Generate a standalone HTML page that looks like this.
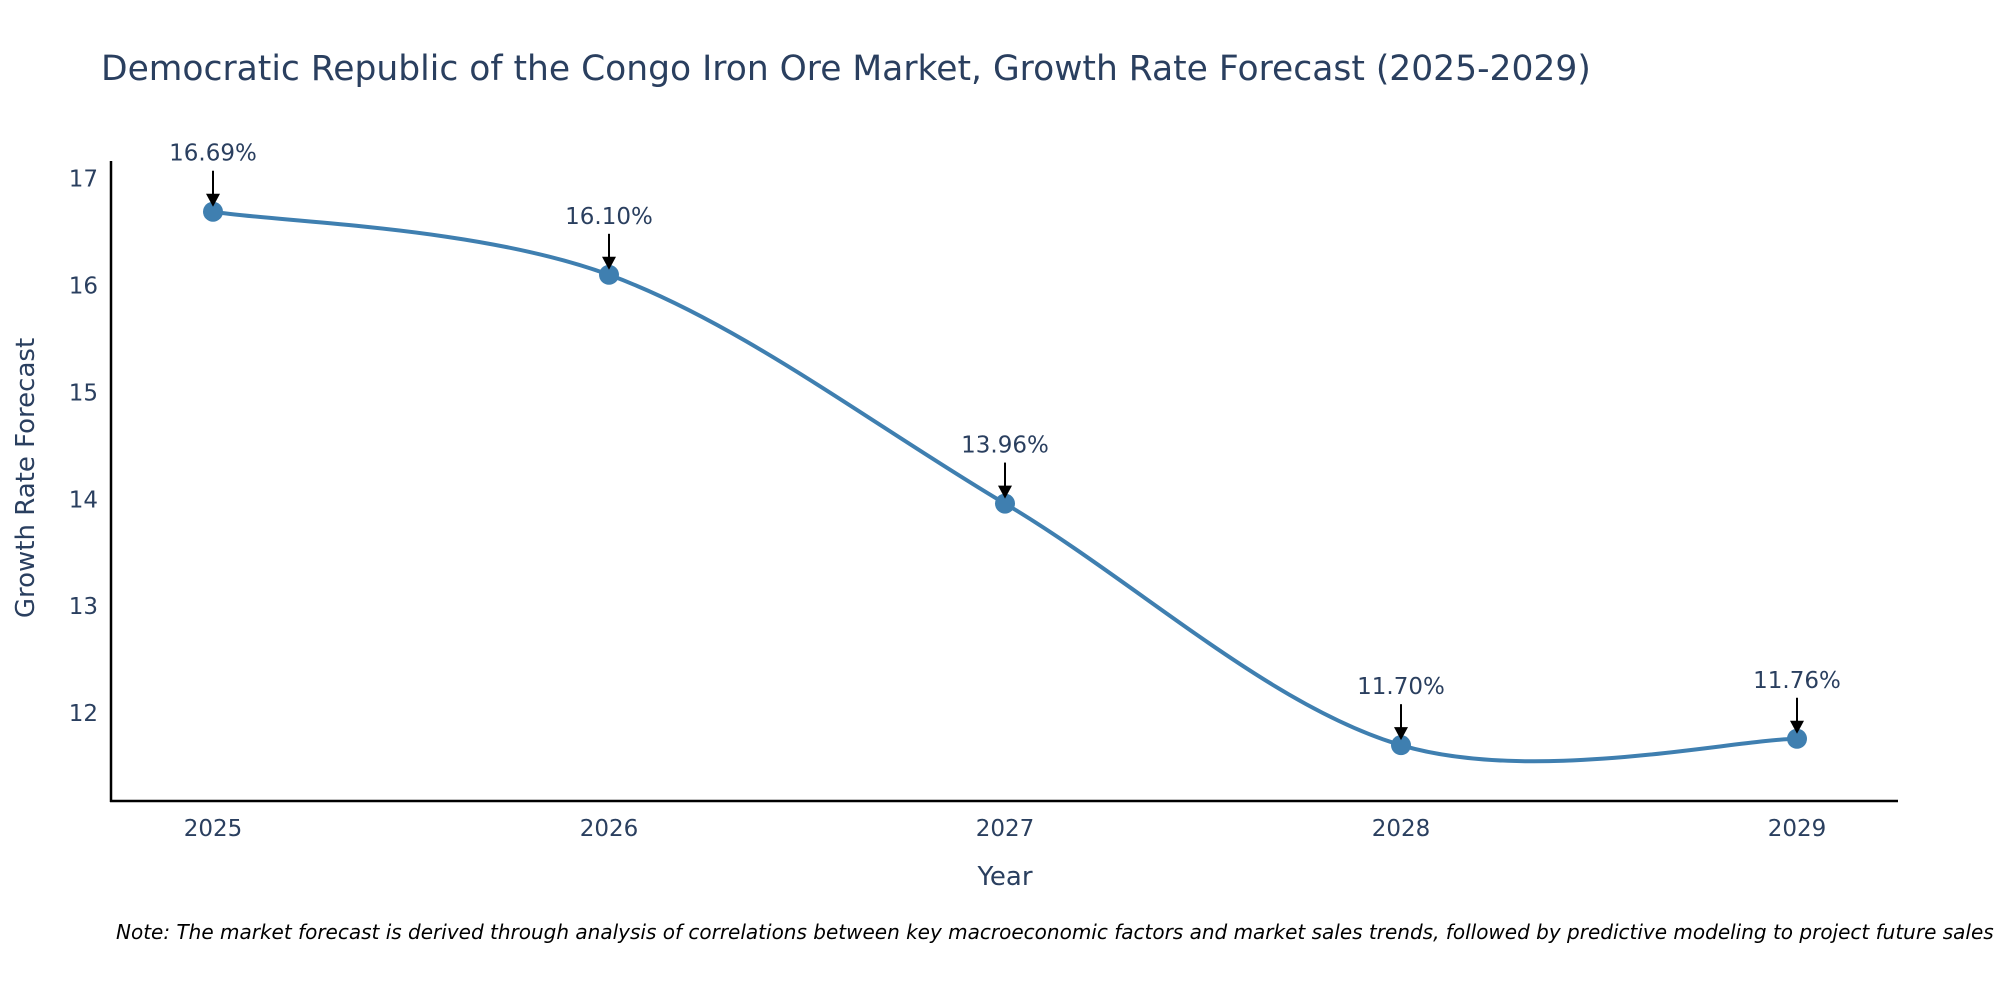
<!DOCTYPE html>
<html><head><meta charset="utf-8"><style>
body{margin:0;background:#fff;}
svg{display:block;font-family:"DejaVu Sans","Liberation Sans",sans-serif;}
</style></head><body>
<svg id="chart" width="2000" height="1000" viewBox="0 0 2000 1000">
<text x="101" y="80" font-size="34.5" fill="#2a3f5f">Democratic Republic of the Congo Iron Ore Market, Growth Rate Forecast (2025-2029)</text>
<g id="yticks"></g><g id="xticks"></g>
<line x1="111" y1="161" x2="111" y2="802" stroke="#000" stroke-width="2.5"/>
<line x1="110" y1="801" x2="1898" y2="801" stroke="#000" stroke-width="2.5"/>
<path id="line" fill="none" stroke="#3f7fb0" stroke-width="4"/>
<g id="points"></g><g id="annots"></g>
<text x="1005" y="885" font-size="26" fill="#2a3f5f" text-anchor="middle">Year</text>
<text transform="translate(34,478) rotate(-90)" font-size="26" fill="#2a3f5f" text-anchor="middle">Growth Rate Forecast</text>
<text x="116" y="939" font-size="20" font-style="italic" fill="#000">Note: The market forecast is derived through analysis of correlations between key macroeconomic factors and market sales trends, followed by predictive modeling to project future sales</text>
</svg>
<script>
const years=["2025","2026","2027","2028","2029"];
const values=[16.69,16.10,13.96,11.70,11.76];
const labels=["16.69%","16.10%","13.96%","11.70%","11.76%"];
const yTicks=[12,13,14,15,16,17];
const NS="http://www.w3.org/2000/svg";
function xS(i){return 213+i*396;}
function yS(v){return 178.6+(17-v)*106.9;}
function mk(tag,attrs,parent,text){const e=document.createElementNS(NS,tag);for(const k in attrs)e.setAttribute(k,attrs[k]);if(text!==undefined)e.textContent=text;parent.appendChild(e);return e;}
const yt=document.getElementById('yticks');
yTicks.forEach(t=>{const e=mk('text',{x:98,y:yS(t)+8,'font-size':23,fill:'#2a3f5f','text-anchor':'end'},yt,String(t));

});
const xt=document.getElementById('xticks');
years.forEach((y,i)=>{const e=mk('text',{x:xS(i),y:836,'font-size':23,fill:'#2a3f5f','text-anchor':'middle'},xt,y);

});
const P=values.map((v,i)=>[xS(i),yS(v)]);
let d="M"+P[0][0]+","+P[0][1];
const k=1/6;
for(let i=0;i<P.length-1;i++){
 const p0=P[Math.max(i-1,0)],p1=P[i],p2=P[i+1],p3=P[Math.min(i+2,P.length-1)];
 const c1=[p1[0]+(p2[0]-p0[0])*k,p1[1]+(p2[1]-p0[1])*k];
 const c2=[p2[0]-(p3[0]-p1[0])*k,p2[1]-(p3[1]-p1[1])*k];
 d+=` C${c1[0]},${c1[1]} ${c2[0]},${c2[1]} ${p2[0]},${p2[1]}`;
}
document.getElementById('line').setAttribute('d',d);
const pts=document.getElementById('points'),an=document.getElementById('annots');
P.forEach((p,i)=>{
 const c=mk('circle',{cx:p[0],cy:p[1],r:10,fill:'#3f7fb0'},pts);
 
 
 const g=mk('g',{},an);
 
 
 mk('line',{x1:p[0],y1:p[1]-41,x2:p[0],y2:p[1]-16,stroke:'#000','stroke-width':2},g);
 mk('path',{d:`M${p[0]-7},${p[1]-18} L${p[0]+7},${p[1]-18} L${p[0]},${p[1]-5} Z`,fill:'#000'},g);
 mk('text',{x:p[0],y:p[1]-51,'font-size':23,fill:'#2a3f5f','text-anchor':'middle'},g,labels[i]);
});
</script>
</body></html>
